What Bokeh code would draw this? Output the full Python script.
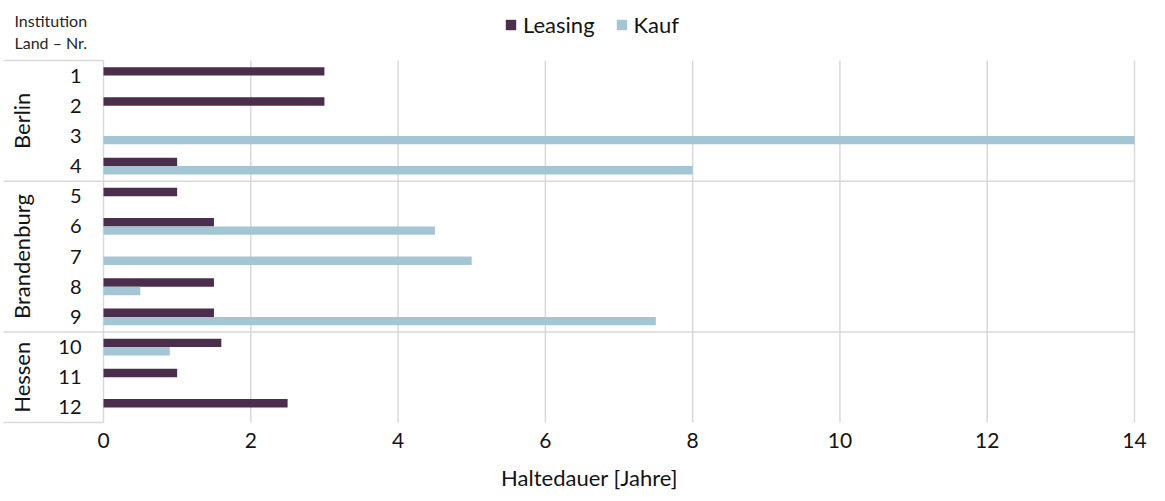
import math
from bokeh.plotting import figure
from bokeh.models import ColumnDataSource, Legend, LegendItem, Range1d
from bokeh.embed import file_html
from bokeh.resources import INLINE
from bokeh.core.properties import value

# ---- data ----
institutions = ["1", "2", "3", "4", "5", "6", "7", "8", "9", "10", "11", "12"]
laender = ["Berlin", "Brandenburg", "Hessen"]
land_counts = [4, 5, 3]
leasing = [3, 3, 0, 1, 1, 1.5, 0, 1.5, 1.5, 1.6, 1, 2.5]
kauf = [0, 0, 14, 8, 0, 4.5, 5, 0.5, 7.5, 0.9, 0, 0]
x_ticks = [0, 2, 4, 6, 8, 10, 12, 14]
x_tick_labels = ["0", "2", "4", "6", "8", "10", "12", "14"]
series_names = ["Leasing", "Kauf"]
x_title = "Haltedauer [Jahre]"
header_lines = ["Institution", "Land \u2013 Nr."]

# ---- style / layout (pixels) ----
FONT = "Lato"
C_LEASING = "#4b2e4b"
C_KAUF = "#a4c6d4"
GRID = "#d9d9d9"
TXT = "#141414"

W, H = 1149, 493
X0_PX, XMAX_PX = 103, 1134          # pixel of value 0 and of the last tick
TOP_PX, BOT_PX = 60, 422            # pixel rows of the category band
x_max = x_ticks[-1]
n = len(institutions)
ppx = (XMAX_PX - X0_PX) / x_max
row_px = (BOT_PX - TOP_PX) / n


def xd(px):
    return (px - X0_PX) / ppx


def yd(py):
    return 0.5 + (py - TOP_PX) / row_px


pos = list(range(1, n + 1))
bh = 0.28
src = ColumnDataSource(dict(
    y_l=[p_ - bh / 2 for p_ in pos],
    y_k=[p_ + bh / 2 for p_ in pos],
    leasing=leasing,
    kauf=kauf,
    zero=[0] * n,
))

p = figure(width=W, height=H, output_backend="svg", toolbar_location=None,
           x_range=Range1d(xd(0), xd(W)), y_range=Range1d(yd(H), yd(0)),
           x_axis_location=None, y_axis_location=None,
           min_border=0, min_border_left=0, min_border_right=0,
           min_border_top=0, min_border_bottom=0)
p.outline_line_color = None
p.xgrid.visible = False
p.ygrid.visible = False
p.background_fill_color = "white"
p.border_fill_color = "white"

# vertical grid lines (value scale)
p.segment(x0=x_ticks, y0=[0.5] * len(x_ticks), x1=x_ticks, y1=[n + 0.5] * len(x_ticks),
          line_color=GRID, line_width=1.5)

# group separators
bounds = [0.5]
for c in land_counts:
    bounds.append(bounds[-1] + c)
x0s, x1s, ys = [], [], []
for i, b in enumerate(bounds):
    x0s.append(xd(3))
    x1s.append(x_max if 0 < i < len(bounds) - 1 else 0)
    ys.append(b)
p.segment(x0=x0s, y0=ys, x1=x1s, y1=ys, line_color=GRID, line_width=1.5)

r_l = p.hbar(y="y_l", left="zero", right="leasing", height=bh, source=src,
             fill_color=C_LEASING, line_color=None)
r_k = p.hbar(y="y_k", left="zero", right="kauf", height=bh, source=src,
             fill_color=C_KAUF, line_color=None)

# x tick labels + title
p.text(x=x_ticks, y=[yd(440)] * len(x_ticks), text=x_tick_labels,
       text_align="center", text_baseline="middle", text_font=value(FONT),
       text_font_size="21px", text_color=TXT)
p.text(x=[xd(589)], y=[yd(477)], text=[x_title], text_align="center",
       text_baseline="middle", text_font=value(FONT), text_font_size="22px",
       text_color=TXT)

# institution numbers
p.text(x=[xd(81)] * n, y=pos, text=institutions, text_align="right",
       text_baseline="middle", text_font=value(FONT), text_font_size="20px",
       text_color=TXT)

# group labels
mids = [(bounds[i] + bounds[i + 1]) / 2 for i in range(len(laender))]
p.text(x=[xd(21)] * len(laender), y=mids, text=laender, angle=math.pi / 2,
       text_align="center", text_baseline="middle", text_font=value(FONT),
       text_font_size="22px", text_color=TXT)

# header
p.text(x=[xd(14)] * 2, y=[yd(20), yd(42)], text=header_lines, text_align="left",
       text_baseline="middle", text_font=value(FONT), text_font_size="16px",
       text_color="#262626")

PAD = 3
LEG_H = 28
legend = Legend(items=[LegendItem(label=series_names[0], renderers=[r_l]),
                       LegendItem(label=series_names[1], renderers=[r_k])],
                orientation="horizontal",
                location=(507 - PAD, H - 24 - LEG_H / 2),
                label_text_font=FONT, label_text_font_size="22px",
                label_text_color=TXT, glyph_width=13, glyph_height=13,
                border_line_color=None, background_fill_alpha=0,
                spacing=20, label_standoff=6, padding=PAD, margin=0)
p.add_layout(legend)

open("out.html", "w").write(file_html(p, INLINE))
